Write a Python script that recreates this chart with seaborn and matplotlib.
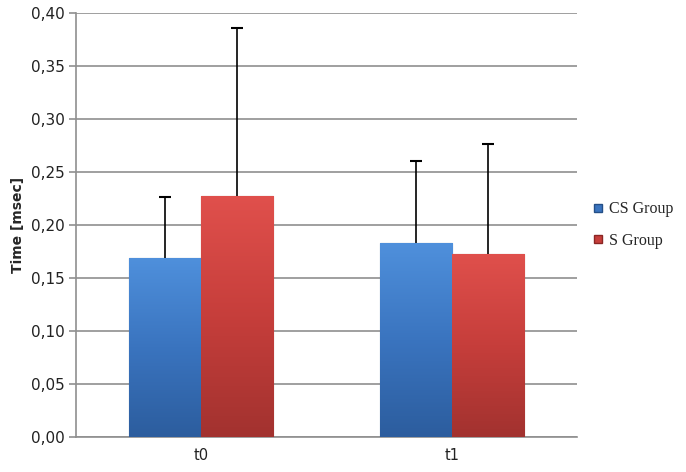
import numpy as np
import pandas as pd
import matplotlib
matplotlib.use("Agg")
import matplotlib.pyplot as plt
import seaborn as sns
from matplotlib.ticker import FuncFormatter, FixedLocator
from matplotlib.colors import LinearSegmentedColormap
from matplotlib.lines import Line2D

categories = ["t0", "t1"]
groups = ["CS Group", "S Group"]
cs_values = [0.169, 0.183]
s_values = [0.227, 0.173]
cs_err = [0.057, 0.077]
s_err = [0.159, 0.103]

df = pd.DataFrame({
    "time": categories * 2,
    "group": [groups[0]] * 2 + [groups[1]] * 2,
    "value": cs_values + s_values,
    "err": cs_err + s_err,
})

sns.set_theme(style="white")
plt.rcParams['font.family'] = ['DejaVu Sans']

fig = plt.figure(figsize=(6.86, 4.72), dpi=100)
ax = fig.add_axes([0.1108, 0.0742, 0.7302, 0.8983])

palette = {groups[0]: "#3b78c4", groups[1]: "#c83f3c"}
sns.barplot(data=df, x="time", y="value", hue="group", order=categories,
            hue_order=groups, palette=palette, width=0.575, errorbar=None,
            saturation=1, ax=ax, legend=True, zorder=3)

grads = {
    groups[0]: ["#4f90dc", "#3a74bf", "#2c5d9e"],
    groups[1]: ["#e0504c", "#c63e3b", "#a2322f"],
}
edges = {groups[0]: "#244f87", groups[1]: "#8a2624"}

bar_patches = [p for p in ax.patches if p.get_height() > 0][:4]
idx = 0
for g, vals, errs in [(groups[0], cs_values, cs_err), (groups[1], s_values, s_err)]:
    cmap = LinearSegmentedColormap.from_list(g, grads[g][::-1])
    for i in range(len(categories)):
        p = bar_patches[idx]; idx += 1
        x0, w, h = p.get_x(), p.get_width(), p.get_height()
        p.set_edgecolor(edges[g]); p.set_linewidth(0.8)
        grad = np.linspace(0, 1, 256).reshape(-1, 1)
        im = ax.imshow(grad, extent=[x0, x0 + w, 0, h], origin="lower",
                       aspect="auto", cmap=cmap, zorder=3.5)
        im.set_clip_path(p)
        _, caps, _ = ax.errorbar(x0 + w / 2, vals[i], yerr=[[0], [errs[i]]], fmt="none",
                                 ecolor="black", elinewidth=1.2, capsize=4, capthick=1.5,
                                 zorder=5)
        if len(caps) > 1:
            caps[0].set_visible(False)

ax.set_xlim(-0.5, 1.5)
ax.set_ylim(0, 0.40)
ax.set_yticks(np.arange(0, 0.401, 0.05))
ax.yaxis.set_major_formatter(FuncFormatter(lambda v, _: f"{v:.2f}".replace(".", ",")))
ax.grid(axis="y", color="#8f8f8f", linewidth=1.2, zorder=0)
ax.set_axisbelow(True)

ax.xaxis.set_minor_locator(FixedLocator([-0.5, 0.5, 1.5]))
ax.tick_params(axis="x", which="major", length=0, pad=8, labelsize=10.5, colors="#222222")
ax.tick_params(axis="x", which="minor", length=5, width=1.2, color="#8f8f8f", direction="out")
ax.tick_params(axis="y", which="major", length=5, width=1.2, color="#8f8f8f",
               direction="out", labelsize=11, labelcolor="#222222", left=True, pad=3)

for s in ["top", "right"]:
    ax.spines[s].set_visible(False)
for s in ["left", "bottom"]:
    ax.spines[s].set_color("#8f8f8f")
    ax.spines[s].set_linewidth(1.2)

ax.set_xlabel("")
ax.set_ylabel("Time [msec]", fontsize=10, fontweight="bold", labelpad=4)

hs = [Line2D([], [], marker="s", linestyle="none", markersize=6,
             markerfacecolor=grads[g][1], markeredgecolor=edges[g]) for g in groups]
ax.legend(hs, groups, loc="center left", bbox_to_anchor=(1.0, 0.5), frameon=False,
          handlelength=0.8, handletextpad=0.3, labelspacing=0.95,
          prop={"family": "Liberation Serif", "size": 11.5})

fig.savefig("out.png", dpi=100)
